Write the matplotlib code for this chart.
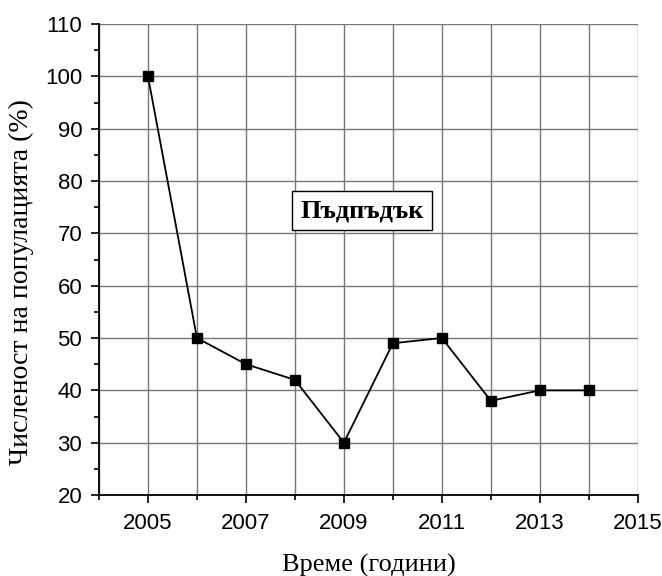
import matplotlib
matplotlib.use("Agg")
import matplotlib.pyplot as plt
from matplotlib.ticker import MultipleLocator

years = [2005, 2006, 2007, 2008, 2009, 2010, 2011, 2012, 2013, 2014]
population = [100, 50, 45, 42, 30, 49, 50, 38, 40, 40]
xticks = [2005, 2007, 2009, 2011, 2013, 2015]
species = "Пъдпъдък"
xlabel = "Време (години)"
ylabel = "Численост на популацията (%)"

fig = plt.figure(figsize=(6.62, 5.76), dpi=100)
ax = fig.add_axes([0.1495, 0.1406, 0.814, 0.8177])

ax.plot(years, population, color="black", lw=1.3, marker="s", ms=6.5, zorder=3)

ax.set_xlim(2004, 2015)
ax.set_ylim(20, 110)
ax.set_xticks(xticks)
ax.xaxis.set_minor_locator(MultipleLocator(1))
ax.yaxis.set_major_locator(MultipleLocator(10))
ax.yaxis.set_minor_locator(MultipleLocator(5))

# grid on every year and every 10 %
ax.grid(which="major", axis="both", color="#777777", lw=1.0)
ax.grid(which="minor", axis="x", color="#777777", lw=1.0)
ax.set_axisbelow(True)

for s in ["top", "right"]:
    ax.spines[s].set_visible(False)
for s in ["left", "bottom"]:
    ax.spines[s].set_linewidth(1.3)

ax.tick_params(which="major", direction="out", length=6, width=1.2,
               labelsize=16, pad=6)
ax.tick_params(axis="x", which="major", pad=7)
ax.tick_params(which="minor", direction="out", length=3.5, width=1.2)
for lab in ax.get_xticklabels() + ax.get_yticklabels():
    lab.set_fontfamily("Liberation Sans")

ax.set_xlabel(xlabel, family="Liberation Serif", fontsize=19, labelpad=14)
ax.set_ylabel(ylabel, family="Liberation Serif", fontsize=20)
ax.yaxis.set_label_coords(-0.12, 0.452)

ax.text(2009.37, 74.3, species, family="Liberation Serif", fontweight="bold",
        fontsize=19, ha="center", va="center", zorder=4,
        bbox=dict(boxstyle="square,pad=0.3", fc="white", ec="black", lw=1))

fig.savefig("out.png", dpi=100)
